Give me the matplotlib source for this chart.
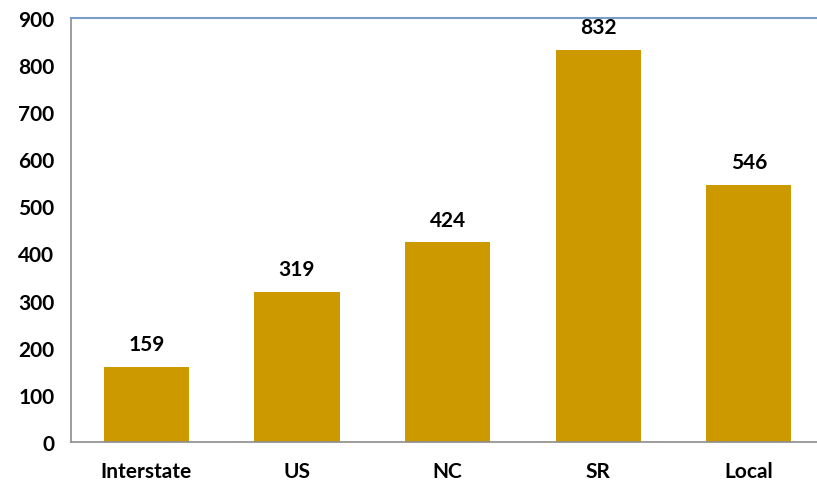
import matplotlib.pyplot as plt

categories = ["Interstate", "US", "NC", "SR", "Local"]
values = [159, 319, 424, 832, 546]

plt.rcParams['font.family'] = ['Lato', 'DejaVu Sans']

fig = plt.figure(figsize=(8.17, 4.85), dpi=100)
ax = fig.add_axes([0.087, 0.087, 0.913, 0.874])

x = range(len(categories))
bars = ax.bar(x, values, width=0.565, color='#CC9900')

for b, v in zip(bars, values):
    ax.annotate(str(v), (b.get_x() + b.get_width() / 2, v),
                xytext=(0, 9), textcoords='offset points',
                ha='center', va='bottom', fontsize=15, fontweight='bold')

ax.set_xlim(-0.5, 4.453)
ax.set_ylim(0, 900)
ax.set_yticks(range(0, 901, 100))
ax.set_xticks(list(x))
ax.set_xticklabels(categories)
ax.tick_params(axis='both', length=0, labelsize=15)
ax.tick_params(axis='y', pad=12)
ax.tick_params(axis='x', pad=14)
for lab in ax.get_xticklabels() + ax.get_yticklabels():
    lab.set_fontweight('bold')

ax.spines['right'].set_visible(False)
ax.spines['top'].set_color('#7A9CC8')
ax.spines['top'].set_linewidth(1.5)
ax.spines['left'].set_color('#8C8C8C')
ax.spines['bottom'].set_color('#8C8C8C')
ax.spines['left'].set_linewidth(1.2)
ax.spines['bottom'].set_linewidth(1.2)

plt.savefig('out.png', dpi=100)
